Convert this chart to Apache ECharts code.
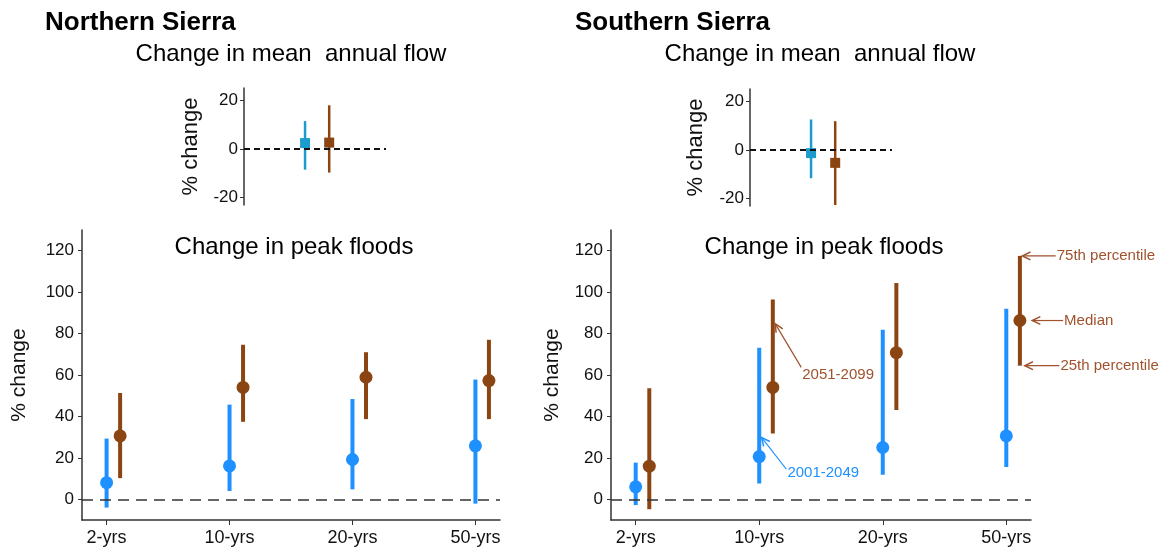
<!doctype html>
<html>
<head>
<meta charset="utf-8">
<title>Sierra flow change</title>
<script src="https://cdn.jsdelivr.net/npm/echarts@6/dist/echarts.min.js"></script>
<style>
    html,body{
        margin: 0;
        width: 100%;
        height: 100%;
        background: #fff;
    }
    #chart{
        width: 1162px;
        height: 547px;
    }
</style>
</head>
<body>
    <div id="chart"></div>
<script>
    // return periods on the x axis
    var periods = ['2-yrs', '10-yrs', '20-yrs', '50-yrs'];
    var yTicks = [0, 20, 40, 60, 80, 100, 120];
    var flowTicks = [-20, 0, 20];

    // peak floods, % change: [25th percentile, median, 75th percentile]
    var northEarly = [[-4, 8, 29.3], [4, 16.1, 45.7], [4.8, 19.2, 48.4], [-2.1, 25.8, 57.8]];
    var northLate  = [[10.2, 30.6, 51.3], [37.4, 54, 74.6], [38.7, 58.9, 71], [38.7, 57.3, 77]];
    var southEarly = [[-2.8, 6, 17.7], [7.6, 20.6, 73.1], [11.8, 25, 81.8], [15.6, 30.6, 92]];
    var southLate  = [[-4.8, 16, 53.6], [31.8, 54, 96.4], [43.1, 70.8, 104.4], [64.5, 86.3, 117.5]];

    // mean annual flow, % change: [25th, median, 75th]
    var northFlowEarly = [-8.5, 2.4, 11.4];
    var northFlowLate  = [-9.7, 2.6, 17.9];
    var southFlowEarly = [-11.6, -1.3, 12.5];
    var southFlowLate  = [-22.6, -5.3, 11.8];

    // annotation arrows on the southern peak floods panel: [tipX, tipY, tailX, tailY, textDy]
    var annoText = ['2051-2099', '2001-2049', '75th percentile', 'Median', '25th percentile'];
    var annoPos = [
        [2.13, 84.7, 2.34, 63.7, 8],
        [2.02, 29.8, 2.22, 14.5, 4],
        [4.13, 117.5, 4.40, 117.5, 0],
        [4.21, 86.3, 4.46, 86.3, 0],
        [4.15, 64.5, 4.43, 64.5, 0]
    ];
    var annoColor = ['#a0522d', '#1e90ff', '#a0522d', '#a0522d', '#a0522d'];

    var BLUE = '#1e90ff', BROWN = '#8b4513', CYAN = '#1b9ccc', AXIS = '#333';
    var FONT = 'Liberation Sans, Arial, sans-serif';
    var lateShift = 0.11;
    var flowX = [0.43, 0.6];

    function rows(arr, shift){
        return arr.map(function(v, i){ return [i + 1 + shift, v[0], v[1], v[2]]; });
    }

    function barRender(color, lw, r, square){
        return function(params, api){
            var x = api.value(0);
            var lo = api.coord([x, api.value(1)]);
            var md = api.coord([x, api.value(2)]);
            var hi = api.coord([x, api.value(3)]);
            var mark = square
                ? {type:'rect', shape:{x:md[0]-r, y:md[1]-r, width:2*r, height:2*r}, style:{fill:color}}
                : {type:'circle', shape:{cx:md[0], cy:md[1], r:r}, style:{fill:color}};
            return {type:'group', children:[
                {type:'line', shape:{x1:lo[0], y1:lo[1], x2:hi[0], y2:hi[1]}, style:{stroke:color, lineWidth:lw}},
                mark
            ]};
        };
    }

    function annoRender(params, api){
        var i = params.dataIndex;
        var tip = api.coord([api.value(0), api.value(1)]);
        var tail = api.coord([api.value(2), api.value(3)]);
        var dx = tail[0]-tip[0], dy = tail[1]-tip[1];
        var len = Math.sqrt(dx*dx + dy*dy);
        dx /= len; dy /= len;
        var a = 0.45, h = 9;
        var p1 = [tip[0] + h*(dx*Math.cos(a) - dy*Math.sin(a)), tip[1] + h*(dx*Math.sin(a) + dy*Math.cos(a))];
        var p2 = [tip[0] + h*(dx*Math.cos(-a) - dy*Math.sin(-a)), tip[1] + h*(dx*Math.sin(-a) + dy*Math.cos(-a))];
        var c = annoColor[i];
        return {type:'group', children:[
            {type:'line', shape:{x1:tip[0], y1:tip[1], x2:tail[0], y2:tail[1]}, style:{stroke:c, lineWidth:1.2}},
            {type:'polyline', shape:{points:[p1, tip, p2]}, style:{stroke:c, lineWidth:1.5, fill:null}},
            {type:'text', x:tail[0]+1, y:tail[1]+api.value(4), style:{
                text:annoText[i], fill:c, font:'15px ' + FONT, align:'left', verticalAlign:'middle'}}
        ]};
    }

    function zeroLine(idx, dash, width, color){
        return {
            type:'line', xAxisIndex:idx, yAxisIndex:idx, data:[], silent:true,
            markLine:{
                silent:true, symbol:['none','none'], label:{show:false},
                lineStyle:{type:dash, width:width, color:color},
                data:[{yAxis:0}]
            }
        };
    }

    function peakX(idx){
        return {
            gridIndex:idx, type:'value', min:0.8, max:4.2,
            axisLine:{onZero:false, lineStyle:{color:AXIS, width:1.5}},
            axisTick:{customValues:[1,2,3,4], length:5, lineStyle:{color:AXIS}},
            axisLabel:{customValues:[1,2,3,4], margin:9, color:'#111', fontSize:18, fontFamily:FONT,
                formatter:function(v){ return periods[Math.round(v)-1]; }},
            splitLine:{show:false}
        };
    }

    function peakY(idx, gap){
        return {
            gridIndex:idx, type:'value', min:-10, max:130,
            name:'% change', nameLocation:'middle', nameGap:gap,
            nameTextStyle:{fontSize:21, color:'#111', fontFamily:FONT},
            axisLine:{show:true, onZero:false, lineStyle:{color:AXIS, width:1.5}},
            axisTick:{show:true, customValues:yTicks, length:4, lineStyle:{color:AXIS}},
            axisLabel:{customValues:yTicks, margin:8, color:'#111', fontSize:17, fontFamily:FONT},
            splitLine:{show:false}
        };
    }

    function flowX_(idx){
        return {gridIndex:idx, type:'value', min:0, max:1, show:false};
    }

    function flowY(idx, gap){
        return {
            gridIndex:idx, type:'value', min:-23, max:25,
            name:'% change', nameLocation:'middle', nameGap:gap,
            nameTextStyle:{fontSize:22, color:'#111', fontFamily:FONT},
            axisLine:{show:true, onZero:false, lineStyle:{color:AXIS, width:1.5}},
            axisTick:{show:true, customValues:flowTicks, length:4, lineStyle:{color:AXIS}},
            axisLabel:{customValues:flowTicks, margin:6, color:'#111', fontSize:17, fontFamily:FONT},
            splitLine:{show:false}
        };
    }

    function titleText(txt, x, y, size, bold, align){
        return {type:'text', x:x, y:y, style:{
            text:txt, fill:'#000', font:(bold ? 'bold ' : '') + size + 'px ' + FONT,
            align:align, verticalAlign:'middle'}};
    }

    var chart = echarts.init(document.getElementById('chart'));
    chart.setOption({
        animation:false,
        backgroundColor:'#fff',
        grid:[
            {left:244, top:88, width:142, height:117},
            {left:750, top:89, width:142, height:117},
            {left:82, top:230, width:418, height:290},
            {left:611, top:230, width:420, height:290}
        ],
        xAxis:[flowX_(0), flowX_(1), peakX(2), peakX(3)],
        yAxis:[flowY(0, 42), flowY(1, 43), peakY(2, 52), peakY(3, 48)],
        graphic:[
            titleText('Northern Sierra', 45, 23, 26, true, 'left'),
            titleText('Southern Sierra', 575, 23, 26, true, 'left'),
            titleText('Change in mean  annual flow', 291, 54, 24, false, 'center'),
            titleText('Change in mean  annual flow', 820, 54, 24, false, 'center'),
            titleText('Change in peak floods', 294, 247, 24, false, 'center'),
            titleText('Change in peak floods', 824, 247, 24, false, 'center')
        ],
        series:[
            zeroLine(0, [6,4], 2, '#111'),
            zeroLine(1, [6,4], 2, '#111'),
            zeroLine(2, [11,7], 1.5, '#333'),
            zeroLine(3, [11,7], 1.5, '#333'),
            {type:'custom', xAxisIndex:0, yAxisIndex:0, encode:{x:0, y:[1,2,3]},
                renderItem:barRender(CYAN, 2.5, 5, true),
                data:[[flowX[0]].concat(northFlowEarly)]},
            {type:'custom', xAxisIndex:0, yAxisIndex:0, encode:{x:0, y:[1,2,3]},
                renderItem:barRender(BROWN, 2.5, 5, true),
                data:[[flowX[1]].concat(northFlowLate)]},
            {type:'custom', xAxisIndex:1, yAxisIndex:1, encode:{x:0, y:[1,2,3]},
                renderItem:barRender(CYAN, 2.5, 5, true),
                data:[[flowX[0]].concat(southFlowEarly)]},
            {type:'custom', xAxisIndex:1, yAxisIndex:1, encode:{x:0, y:[1,2,3]},
                renderItem:barRender(BROWN, 2.5, 5, true),
                data:[[flowX[1]].concat(southFlowLate)]},
            {type:'custom', xAxisIndex:2, yAxisIndex:2, encode:{x:0, y:[1,2,3]},
                renderItem:barRender(BLUE, 4, 6.5, false), data:rows(northEarly, 0)},
            {type:'custom', xAxisIndex:2, yAxisIndex:2, encode:{x:0, y:[1,2,3]},
                renderItem:barRender(BROWN, 4, 6.5, false), data:rows(northLate, lateShift)},
            {type:'custom', xAxisIndex:3, yAxisIndex:3, encode:{x:0, y:[1,2,3]},
                renderItem:barRender(BLUE, 4, 6.5, false), data:rows(southEarly, 0)},
            {type:'custom', xAxisIndex:3, yAxisIndex:3, encode:{x:0, y:[1,2,3]},
                renderItem:barRender(BROWN, 4, 6.5, false), data:rows(southLate, lateShift)},
            {type:'custom', xAxisIndex:3, yAxisIndex:3, clip:false, silent:true,
                renderItem:annoRender, data:annoPos}
        ]
    });
</script>
</body>
</html>
